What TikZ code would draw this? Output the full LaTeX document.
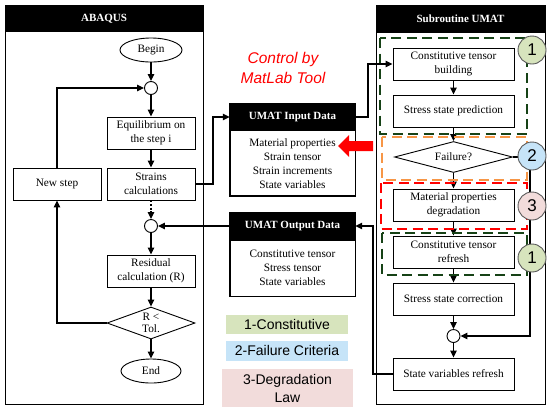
\documentclass[tikz,border=0pt]{standalone}
\usepackage{fontspec}
\setmainfont{Liberation Serif}
\newfontfamily\arialf{Liberation Sans}
\usetikzlibrary{arrows.meta,shapes.geometric}
\definecolor{dkgreen}{RGB}{22,66,22}
\definecolor{orng}{RGB}{247,150,70}
\definecolor{lgreen}{RGB}{215,228,189}
\definecolor{lblue}{RGB}{198,228,248}
\definecolor{lpink}{RGB}{242,220,219}
\begin{document}
\begin{tikzpicture}[x=1pt,y=-1pt,
  box/.style={draw,line width=0.9pt,minimum width=88pt,minimum height=32pt,align=center,inner sep=1pt,font=\fontsize{11.3}{14}\selectfont},
  rbox/.style={box,minimum width=121pt},
  jn/.style={circle,draw,line width=0.9pt,minimum size=13pt,inner sep=0pt},
  term/.style={ellipse,draw,line width=0.9pt,minimum width=62pt,minimum height=24pt,inner sep=0pt,font=\fontsize{11.3}{14}\selectfont},
  dec/.style={diamond,draw,line width=0.9pt,inner sep=0pt,align=center,font=\fontsize{11.3}{14}\selectfont},
  arr/.style={line width=1.2pt,-{Triangle[length=7pt,width=6.5pt]}},
  frame/.style={draw,line width=0.9pt},
  head/.style={fill=black,text=white,inner sep=0pt,font=\fontsize{11}{13}\selectfont\bfseries},
  dbox/.style={line width=2.6pt,dash pattern=on 10pt off 5.5pt},
  numc/.style={circle,draw=black!65,line width=0.9pt,minimum size=28pt,inner sep=0pt,font=\arialf\fontsize{17}{19}\selectfont},
  legend/.style={inner sep=0pt,align=center,font=\arialf\fontsize{14}{18}\selectfont}
]
\useasboundingbox (0,0) rectangle (553,413);
\fill[white] (0,0) rectangle (553,413);

% ---------------- ABAQUS panel
\draw[frame] (5,5) rectangle (203,404);
\node[head,minimum width=198pt,minimum height=27pt] (abh) at (104,18.5) {ABAQUS};

\node[term] (begin) at (151,50) {Begin};
\node[jn] (j1) at (151,88) {};
\node[box] (eq) at (151,133) {Equilibrium on\\the step i};
\node[box] (strain) at (151,184) {Strains\\calculations};
\node[box] (newstep) at (57,184) {New step};
\node[jn] (j2) at (151,226) {};
\node[box] (resid) at (151,271) {Residual\\calculation (R)};
\node[dec,minimum width=88pt,minimum height=32pt,aspect=2.6] (tol) at (151,323) {R <\\[-2pt]Tol.};
\node[term,minimum width=60pt] (endn) at (151,371) {End};

\draw[arr] (begin) -- (j1);
\draw[arr] (j1) -- (eq);
\draw[arr] (eq) -- (strain);
\draw[arr,dash pattern=on 2pt off 1.6pt] (strain) -- (j2);
\draw[arr] (j2) -- (resid);
\draw[arr] (resid) -- (tol);
\draw[arr] (tol) -- (endn);
\draw[arr] (newstep.north) |- (j1.west);
\draw[arr] (tol.west) -| (newstep.south);

% ---------------- UMAT data boxes
\node[head,minimum width=125pt,minimum height=26pt] (inhead) at (292.5,117) {UMAT Input Data};
\node[draw,line width=0.9pt,minimum width=125pt,minimum height=65pt,anchor=north,align=center,inner sep=0pt,font=\fontsize{11.3}{14}\selectfont] (inbody) at (inhead.south) {Material properties\\Strain tensor\\Strain increments\\State variables};
\draw[line width=0.9pt] (inhead.north west) rectangle (inbody.south east);

\node[head,minimum width=125pt,minimum height=27pt] (outhead) at (292.5,226) {UMAT Output Data};
\node[draw,line width=0.9pt,minimum width=125pt,minimum height=56pt,anchor=north,align=center,inner sep=0pt,font=\fontsize{11.3}{14}\selectfont] (outbody) at (outhead.south) {Constitutive tensor\\Stress tensor\\State variables};
\draw[line width=0.9pt] (outhead.north west) rectangle (outbody.south east);

\node[text=red,align=center,font=\arialf\itshape\fontsize{15.5}{20}\selectfont] (ctrl) at (283,68) {Control by\\MatLab Tool};

% red arrow
\fill[red] (338,146) -- (349,135) -- (349,141) -- (373,141) -- (373,151) -- (349,151) -- (349,157) -- cycle;

% legend
\node[legend,fill=lgreen,minimum width=122pt,minimum height=19pt] (leg1) at (287,324.5) {1-Constitutive};
\node[legend,fill=lblue,minimum width=122pt,minimum height=20pt] (leg2) at (287,350.5) {2-Failure Criteria};
\node[legend,fill=lpink,minimum width=131pt,minimum height=38pt] (leg3) at (287.5,388) {3-Degradation\\Law};

% ---------------- Subroutine UMAT panel
\draw[frame] (376,5) rectangle (545,404);
\node[head,minimum width=169pt,minimum height=28pt] (umh) at (460.5,19) {Subroutine UMAT};

\node[rbox] (ctb) at (453.5,64) {Constitutive tensor\\building};
\node[rbox] (ssp) at (453.5,111) {Stress state prediction};
\node[dec,minimum width=118pt,minimum height=31pt,aspect=3] (fail) at (453.5,157) {Failure?};
\node[rbox] (mpd) at (453.5,205) {Material properties\\degradation};
\node[rbox] (ctr) at (453.5,252) {Constitutive tensor\\refresh};
\node[rbox] (ssc) at (453.5,299) {Stress state correction};
\node[jn] (j3) at (453.5,336) {};
\node[rbox] (svr) at (453.5,374) {State variables refresh};

\draw[arr] (ctb) -- (ssp);
\draw[arr] (ssp) -- (fail);
\draw[arr] (fail) -- (mpd);
\draw[arr] (mpd) -- (ctr);
\draw[arr] (ctr) -- (ssc);
\draw[arr] (ssc) -- (j3);
\draw[arr] (j3) -- (svr);

% dashed groups
\draw[dbox,draw=dkgreen] (380,38) rectangle (527,134);
\draw[dbox,draw=orng] (382,137) rectangle (527,180);
\draw[dbox,draw=red] (381,183) rectangle (527,229);
\draw[dbox,draw=dkgreen] (382,233) rectangle (527,275);

% cross connections
\coordinate (s1) at (213,184);
\coordinate (s2) at (368,117);
\coordinate (f1) at (530,336);
\coordinate (o1) at (373,374);
\draw[arr] (strain.east) -- (s1) |- (inhead.west);
\draw[arr] (inhead.east) -- (s2) |- (ctb.west);
\draw[arr] (fail.east) -| (f1) -- (j3.east);
\draw[arr] (svr.west) -- (o1) |- (outhead.east);
\draw[arr] (outhead.west) -- (j2.east);

% numbered circles
\node[numc,fill=lgreen] (n1a) at (532,50) {1};
\node[numc,fill=lblue] (n2) at (532,156) {2};
\node[numc,fill=lpink] (n3) at (532,206) {3};
\node[numc,fill=lgreen] (n1b) at (532,258) {1};
\end{tikzpicture}
\end{document}
